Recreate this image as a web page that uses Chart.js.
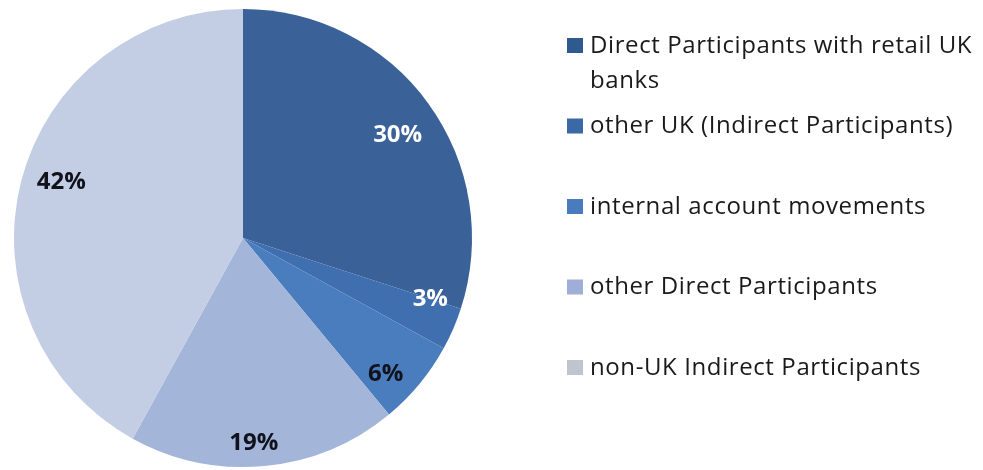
<!DOCTYPE html>
<html>
<head>
<meta charset="utf-8">
<script src="https://cdn.jsdelivr.net/npm/chart.js@4"></script>
<style>
  html, body { margin: 0; padding: 0; background: #ffffff; }
  #wrap { width: 983px; height: 470px; position: relative; }
</style>
</head>
<body>
<div id="wrap"><canvas id="pie"></canvas></div>
<script>
const categories = [
    ['Direct Participants with retail UK', 'banks'],
    ['other UK (Indirect Participants)'],
    ['internal account movements'],
    ['other Direct Participants'],
    ['non-UK Indirect Participants']
];
const shares = [30, 3, 6, 19, 42];
const sliceColors = ['#3a6198', '#3f6fae', '#4a7dbd', '#a4b5da', '#c3cee4'];
const legendColors = ['#2f5a8e', '#3a69a6', '#4a7bbd', '#9eaed6', '#c0c4d0'];
const labelColors = ['#ffffff', '#ffffff', '#10131c', '#10131c', '#10131c'];
// label placement: fraction of radius, and nudge in degrees from the slice middle
const labelRadius = [0.81, 0.86, 0.86, 0.895, 0.83];
const labelShift = [2.5, -5.4, 4, 2.4, 2.6];

const FONT = "'Open Sans', 'Noto Sans', sans-serif";

// percentage text inside each slice
const sliceLabels = {
    id: 'sliceLabels',
    afterDatasetsDraw(chart) {
        const ctx = chart.ctx;
        const meta = chart.getDatasetMeta(0);
        ctx.save();
        ctx.font = 'bold 24px ' + FONT;
        ctx.textAlign = 'center';
        ctx.textBaseline = 'middle';
        meta.data.forEach((arc, i) => {
            const p = arc.getProps(['x', 'y', 'startAngle', 'endAngle', 'outerRadius']);
            const mid = (p.startAngle + p.endAngle) / 2 + labelShift[i] * Math.PI / 180;
            const r = p.outerRadius * labelRadius[i];
            ctx.fillStyle = labelColors[i];
            ctx.fillText(shares[i] + '%', p.x + Math.cos(mid) * r, p.y + Math.sin(mid) * r);
        });
        ctx.restore();
    }
};

// legend on the right, with wrapped first entry
const sideLegend = {
    id: 'sideLegend',
    afterDraw(chart) {
        const ctx = chart.ctx;
        ctx.save();
        ctx.font = '24px ' + FONT;
        ctx.letterSpacing = '0.6px';
        ctx.textBaseline = 'middle';
        let y = 46;
        chart.data.labels.forEach((lines, i) => {
            ctx.fillStyle = legendColors[i];
            ctx.fillRect(567, y - 8, 16, 15);
            ctx.fillStyle = '#1a1a1a';
            lines.forEach((line, j) => ctx.fillText(line, 590, y + j * 35));
            y += 80.5;
        });
        ctx.restore();
    }
};

new Chart(document.getElementById('pie'), {
    type: 'pie',
    data: {
        labels: categories,
        datasets: [{
            data: shares,
            backgroundColor: sliceColors,
            borderWidth: 0
        }]
    },
    options: {
        responsive: true,
        maintainAspectRatio: false,
        animation: false,
        layout: { padding: { left: 13, right: 510, top: 9, bottom: 3 } },
        plugins: {
            legend: { display: false },
            tooltip: { enabled: false }
        }
    },
    plugins: [sliceLabels, sideLegend]
});
</script>
</body>
</html>
